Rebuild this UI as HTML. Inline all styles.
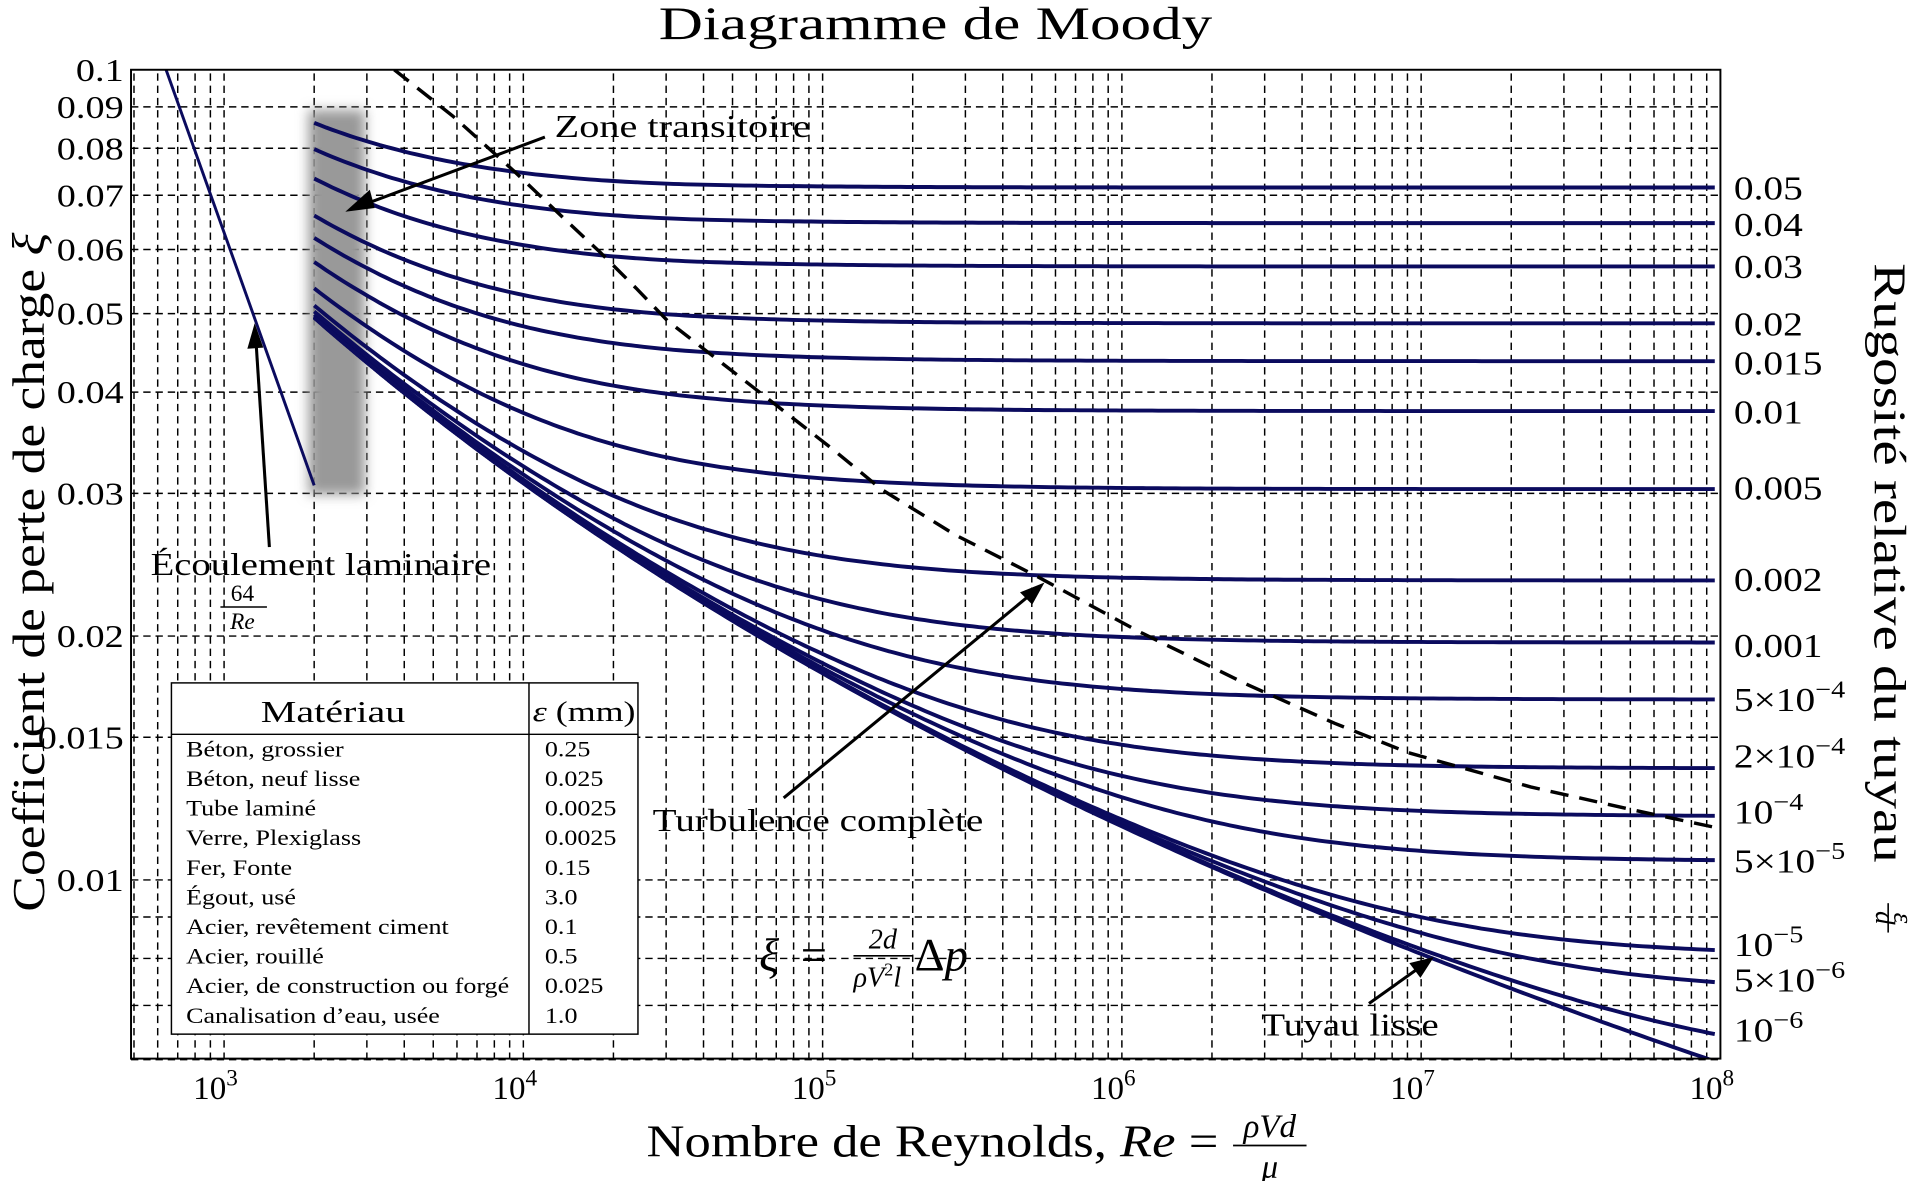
<!DOCTYPE html>
<html><head><meta charset="utf-8"><style>
html,body{margin:0;padding:0;background:#fff;}
svg{display:block;}
text{font-family:"Liberation Serif","DejaVu Serif",serif;fill:#000;}
</style></head><body>
<svg id="s" width="1920" height="1181" viewBox="0 0 1568 965" preserveAspectRatio="none" xmlns="http://www.w3.org/2000/svg">
<defs><filter id="bl" x="-50%" y="-20%" width="200%" height="140%"><feGaussianBlur stdDeviation="5"/></filter>
<clipPath id="cp"><rect x="107" y="57" width="1298" height="808"/></clipPath></defs>
<rect x="0" y="0" width="1568" height="965" fill="#fff"/>
<g id="grid" stroke="#000" stroke-width="1.2" stroke-dasharray="6,4" fill="none"></g>
<rect x="252" y="90" width="46" height="314" fill="#999" filter="url(#bl)"/>
<g id="curves" clip-path="url(#cp)" fill="none"></g>
<polyline points="322,57 370,95 420,140 460,178 490,206 520,236 545,262 590,297 630,328 680,367 720,400 780,437 845,470 930,516 1020,560 1090,591 1150,615 1250,643 1330,661 1405,677" fill="none" stroke="#000" stroke-width="2.8" stroke-dasharray="15,9" clip-path="url(#cp)"/>
<rect x="107" y="57" width="1298" height="808" fill="none" stroke="#000" stroke-width="1.6"/>
<g id="labels"></g>
<!-- table -->
<rect x="140" y="558" width="381" height="287" fill="#fff" stroke="#000" stroke-width="1.2"/>
<line x1="140" y1="600" x2="521" y2="600" stroke="#000" stroke-width="1.2"/>
<line x1="432" y1="558" x2="432" y2="845" stroke="#000" stroke-width="1.2"/>
<text x="213" y="590" font-size="25" textLength="118" lengthAdjust="spacingAndGlyphs">Matériau</text>
<text x="435" y="589" font-size="23" textLength="84" lengthAdjust="spacingAndGlyphs"><tspan font-style="italic">ε</tspan> (mm)</text>
<g font-size="18.5" id="tbl"></g>
<!-- titles -->
<text x="538" y="32" font-size="38" textLength="452" lengthAdjust="spacingAndGlyphs">Diagramme de Moody</text>
<text x="528" y="945" font-size="37" textLength="467" lengthAdjust="spacingAndGlyphs">Nombre de Reynolds, <tspan font-style="italic">Re</tspan> =</text>
<text x="1037" y="929" font-size="27" text-anchor="middle" font-style="italic">ρVd</text>
<line x1="1007" y1="936" x2="1067" y2="936" stroke="#000" stroke-width="1.5"/>
<text x="1037" y="962" font-size="27" text-anchor="middle" font-style="italic">μ</text>
<text transform="translate(36,745) rotate(-90)" font-size="37" textLength="555" lengthAdjust="spacingAndGlyphs">Coefficient de perte de charge <tspan font-style="italic">ξ</tspan></text>
<text transform="translate(1531,215) rotate(90)" font-size="37" textLength="490" lengthAdjust="spacingAndGlyphs">Rugosité relative du tuyau</text>
<text transform="translate(1547,750) rotate(90)" font-size="22" text-anchor="middle" font-style="italic">ε</text>
<line x1="1542" y1="738" x2="1542" y2="762" stroke="#000" stroke-width="1.3"/>
<text transform="translate(1532,750) rotate(90)" font-size="22" text-anchor="middle" font-style="italic">d</text>
<!-- annotations -->
<g stroke="#000" stroke-width="2.5" fill="none">
<line x1="445" y1="112" x2="295" y2="168"/>
<line x1="220" y1="447" x2="209" y2="278"/>
<line x1="640" y1="652" x2="845" y2="483"/>
<line x1="1118" y1="820" x2="1160" y2="790"/>
</g>
<g fill="#000">
<polygon points="282,173 302,155 306,170"/>
<polygon points="208,264 202,285 215,284"/>
<polygon points="853,476 833,484 843,494"/>
<polygon points="1171,782 1151,787 1160,799"/>
</g>
<text x="453" y="112" font-size="26" textLength="209" lengthAdjust="spacingAndGlyphs">Zone transitoire</text>
<text x="123" y="470" font-size="26" textLength="278" lengthAdjust="spacingAndGlyphs">Écoulement laminaire</text>
<text x="198" y="491" font-size="19" text-anchor="middle">64</text>
<line x1="180" y1="496" x2="218" y2="496" stroke="#000" stroke-width="1.2"/>
<text x="198" y="514" font-size="19" text-anchor="middle" font-style="italic">Re</text>
<text x="533" y="679" font-size="26" textLength="270" lengthAdjust="spacingAndGlyphs">Turbulence complète</text>
<text x="1030" y="846" font-size="26" textLength="145" lengthAdjust="spacingAndGlyphs">Tuyau lisse</text>
<text x="620" y="793" font-size="38" font-style="italic">ξ</text>
<text x="654" y="793" font-size="38">=</text>
<text x="721" y="775" font-size="23" text-anchor="middle" font-style="italic">2d</text>
<line x1="697" y1="781" x2="745" y2="781" stroke="#000" stroke-width="1.4"/>
<text x="697" y="806" font-size="23" font-style="italic">ρV<tspan dy="-9" font-size="15" font-style="normal">2</tspan><tspan dy="9">l</tspan></text>
<text x="747" y="793" font-size="38">Δ<tspan font-style="italic">p</tspan></text>
</svg>
<script>
var NS="http://www.w3.org/2000/svg";
function X(re){return 1405-(8-Math.log10(re))*244.4;}
function Y(f){return 57+(-1-Math.log10(f))*662;}
function el(p,t,a,txt){var e=document.createElementNS(NS,t);for(var k in a)e.setAttribute(k,a[k]);if(txt!=null)e.textContent=txt;p.appendChild(e);return e;}
function widen(e,f){try{var l=e.getComputedTextLength();if(l>0){e.setAttribute('textLength',(l*f).toFixed(1));e.setAttribute('lengthAdjust','spacingAndGlyphs');}}catch(x){}}
var g=document.getElementById('grid');
for(var d=2;d<8;d++)for(var m=1;m<10;m++){var re=m*Math.pow(10,d);var x=X(re);if(x<=108||x>=1404)continue;el(g,'line',{x1:x,y1:60,x2:x,y2:865});}
var hs=[0.09,0.08,0.07,0.06,0.05,0.04,0.03,0.02,0.015,0.01,0.009,0.008,0.007,0.006];
hs.forEach(function(f){var y=Y(f);el(g,'line',{x1:107,y1:y,x2:1405,y2:y});});
var L=document.getElementById('labels');
[['0.1',0.1],['0.09',0.09],['0.08',0.08],['0.07',0.07],['0.06',0.06],['0.05',0.05],['0.04',0.04],['0.03',0.03],['0.02',0.02],['0.015',0.015],['0.01',0.01]].forEach(function(a){
var t=el(L,'text',{x:101,y:Y(a[1])+9,'font-size':26,'text-anchor':'end'},a[0]);widen(t,1.2);});
for(var d=3;d<=8;d++){var t=el(L,'text',{x:X(Math.pow(10,d))-7,y:898,'font-size':27,'text-anchor':'middle'},'10');el(t,'tspan',{dy:-11,'font-size':19},''+d);}
var cv=document.getElementById('curves');
function col(re,e){var f=0.02;for(var i=0;i<60;i++){var s=-2*Math.log10(e/3.7+2.51/(re*Math.sqrt(f)));f=1/(s*s);}return f;}
var eps=[0.05,0.04,0.03,0.02,0.015,0.01,0.005,0.002,0.001,5e-4,2e-4,1e-4,5e-5,1e-5,5e-6,1e-6,0];
eps.forEach(function(e){var p=[];for(var l=Math.log10(2000);l<=8.0001;l+=0.02){var re=Math.pow(10,l);var f=col(re,e);
var k=Math.max(0,1-(l-Math.log10(2000))/1.3);f=f*(1+0.05*k*k*Math.min(1,e*40));
p.push(X(re).toFixed(1)+','+Y(f).toFixed(1));}
el(cv,'polyline',{points:p.join(' '),stroke:'#0b0b5e','stroke-width':3.2});});
el(cv,'line',{x1:X(640),y1:Y(0.1),x2:X(2000),y2:Y(64/2000)+12,stroke:'#0b0b5e','stroke-width':2.4});
var rl=[['0.05',153],['0.04',183],['0.03',217],['0.02',264],['0.015',296],['0.01',336],['0.005',398],['0.002',473],['0.001',527],['5×10|−4',571],['2×10|−4',617],['10|−4',663],['5×10|−5',703],['10|−5',771],['5×10|−6',800],['10|−6',841]];
rl.forEach(function(a){var parts=a[0].split('|');var t=el(L,'text',{x:1416,y:a[1]+10,'font-size':28},parts[0]);if(parts[1])el(t,'tspan',{dy:-11,'font-size':20},parts[1]);widen(t,1.15);});
var rows=[['Béton, grossier','0.25'],['Béton, neuf lisse','0.025'],['Tube laminé','0.0025'],['Verre, Plexiglass','0.0025'],['Fer, Fonte','0.15'],['Égout, usé','3.0'],['Acier, revêtement ciment','0.1'],['Acier, rouillé','0.5'],['Acier, de construction ou forgé','0.025'],['Canalisation d’eau, usée','1.0']];
var T=document.getElementById('tbl');
rows.forEach(function(r,i){var y=618+i*24.2;var a=el(T,'text',{x:152,y:y},r[0]);widen(a,1.15);var b=el(T,'text',{x:445,y:y},r[1]);widen(b,1.15);});
</script>
</body></html>
